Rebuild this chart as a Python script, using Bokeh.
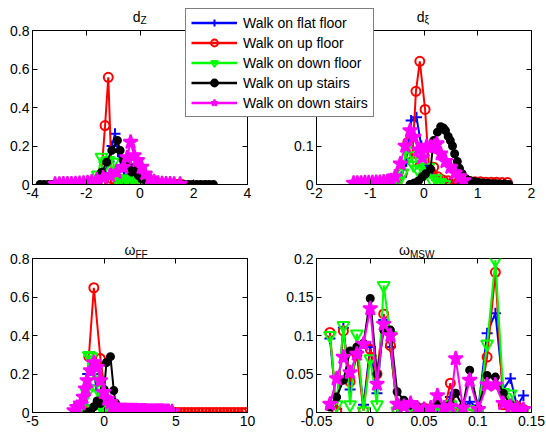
import numpy as np
from bokeh.plotting import figure
from bokeh.models import (Range1d, FixedTicker, LinearAxis, Legend, LegendItem, Label, GridBox)
from bokeh.embed import file_html
from bokeh.resources import INLINE

# ---------------- data ----------------
series_labels = ["Walk on flat floor", "Walk on up floor", "Walk on down floor",
                 "Walk on up stairs", "Walk on down stairs"]

# d_Z
dz_flat_x = [-2.5, -2.35, -2.2, -2.05, -1.9, -1.75, -1.6, -1.45, -1.3, -1.15, -1.04, -0.93, -0.82, -0.7, -0.58,
             -0.46, -0.34, -0.22, -0.1, 0.02, 0.14, 0.3, 0.45, 0.6, 0.75, 0.9, 1.05, 1.2, 1.35, 1.5]
dz_flat_y = [0, 0, 0, 0, 0.002, 0.005, 0.01, 0.03, 0.06, 0.12, 0.2, 0.264, 0.17, 0.1, 0.05,
             0.04, 0.03, 0.02, 0.012, 0.008, 0.005, 0.003, 0.002, 0.001, 0, 0, 0, 0, 0, 0]
dz_upfloor_x = [-1.6, -1.46, -1.3, -1.18, -1.05, -0.92, -0.79, -0.66, -0.53, -0.4, -0.27, -0.14, 0.0,
                0.13, 0.26, 0.39, 0.52, 0.65, 0.78, 0.91, 1.04, 1.17, 1.3, 1.43, 1.56]
dz_upfloor_y = [0, 0.01, 0.306, 0.557, 0.03, 0.02, 0.01, 0.008, 0.01, 0.006, 0.008, 0.005, 0.006,
                0.004, 0.005, 0.003, 0.004, 0.003, 0.002, 0.003, 0.002, 0.002, 0.001, 0.001, 0]
dz_downfloor_x = [-2.0, -1.86, -1.72, -1.57, -1.43, -1.3, -1.18, -1.0, -0.87, -0.75, -0.62, -0.5, -0.37,
                  -0.25, -0.12, 0.0, 0.12, 0.25, 0.37]
dz_downfloor_y = [0, 0.003, 0.01, 0.05, 0.142, 0.1, 0.125, 0.116, 0.03, 0.025, 0.02, 0.03, 0.02,
                  0.025, 0.015, 0.02, 0.01, 0.005, 0]
dz_upstairs_x = [-3.72, -3.57, -3.41, -3.26, -3.1, -2.95, -2.8, -2.64, -2.49, -2.33, -2.18, -2.03, -1.87,
                 -1.72, -1.56, -1.43, -1.24, -1.05, -0.84, -0.74, -0.62, -0.43, -0.31, -0.19, -0.06, 0.06,
                 0.25, 0.4, 0.56, 0.71, 0.87, 1.02, 1.18, 1.33, 1.49, 1.64, 1.8, 1.95, 2.11, 2.26, 2.42,
                 2.57, 2.73]
dz_upstairs_y = [0, 0, 0, 0, 0, 0, 0, 0, 0, 0, 0, 0, 0,
                 0.005, 0.02, 0.064, 0.116, 0.177, 0.229, 0.177, 0.13, 0.099, 0.064, 0.09, 0.047, 0.03,
                 0.012, 0.005, 0, 0, 0, 0, 0, 0, 0, 0, 0, 0, 0, 0, 0,
                 0, 0]
dz_downstairs_x = [-3.16, -3.0, -2.85, -2.7, -2.55, -2.4, -2.25, -2.1, -1.95, -1.8, -1.61, -1.37, -1.12,
                   -0.87, -0.62, -0.48, -0.35, -0.22, -0.1, 0.06, 0.19, 0.37, 0.52, 0.67, 0.82, 0.97,
                   1.12, 1.27, 1.49]
dz_downstairs_y = [0.002, 0.002, 0.003, 0.003, 0.004, 0.005, 0.006, 0.008, 0.01, 0.014, 0.024, 0.035, 0.047,
                   0.064, 0.09, 0.14, 0.22, 0.15, 0.125, 0.09, 0.055, 0.03, 0.015, 0.008, 0.005, 0.004,
                   0.003, 0.002, 0.002]

# d_xi
dxi_flat_x = [-0.7, -0.6, -0.5, -0.42, -0.33, -0.24, -0.14, -0.05, 0.04, 0.13, 0.22, 0.31, 0.4, 0.5,
              0.6, 0.7, 0.8, 0.9, 1.0]
dxi_flat_y = [0, 0.002, 0.008, 0.02, 0.06, 0.166, 0.175, 0.1, 0.05, 0.03, 0.02, 0.012, 0.008, 0.005,
              0.003, 0.002, 0.001, 0, 0]
dxi_upfloor_x = [-0.6, -0.5, -0.4, -0.3, -0.22, -0.15, -0.078, 0.02, 0.1, 0.18, 0.26, 0.35, 0.45, 0.55,
                 0.65, 0.75, 0.85, 0.95, 1.05, 1.15, 1.25, 1.35, 1.45, 1.55]
dxi_upfloor_y = [0, 0.005, 0.03, 0.11, 0.06, 0.242, 0.32, 0.195, 0.03, 0.045, 0.02, 0.012, 0.01, 0.01,
                 0.008, 0.008, 0.008, 0.007, 0.007, 0.006, 0.006, 0.006, 0.005, 0.005]
dxi_downfloor_x = [-0.55, -0.47, -0.4, -0.33, -0.26, -0.19, -0.12, -0.05, 0.02, 0.08, 0.15, 0.22, 0.3, 0.38]
dxi_downfloor_y = [0, 0.01, 0.03, 0.097, 0.075, 0.05, 0.04, 0.06, 0.03, 0.045, 0.01, 0.015, 0.005, 0]
dxi_upstairs_x = [-0.26, -0.18, -0.1, -0.03, 0.03, 0.12, 0.18, 0.25, 0.31, 0.36, 0.4, 0.45, 0.49, 0.53,
                  0.57, 0.62, 0.66, 0.71, 0.78, 0.86, 0.94, 1.02, 1.1, 1.18, 1.26, 1.34, 1.42, 1.5, 1.58]
dxi_upstairs_y = [0, 0.004, 0.01, 0.02, 0.028, 0.04, 0.114, 0.136, 0.15, 0.147, 0.14, 0.125, 0.114, 0.1,
                  0.08, 0.06, 0.042, 0.028, 0.015, 0.01, 0.007, 0.005, 0.004, 0.003, 0.002, 0.002, 0.001,
                  0.001, 0]
dxi_downstairs_x = [-1.31, -1.24, -1.17, -1.1, -1.03, -0.96, -0.89, -0.82, -0.75, -0.68, -0.61, -0.54,
                    -0.44, -0.35, -0.26, -0.19, -0.1, -0.03, 0.05, 0.12, 0.19, 0.24, 0.31, 0.4, 0.49,
                    0.58, 0.66, 0.74]
dxi_downstairs_y = [0.004, 0.004, 0.004, 0.005, 0.005, 0.005, 0.006, 0.006, 0.007, 0.008, 0.01, 0.02,
                    0.054, 0.1, 0.14, 0.123, 0.09, 0.07, 0.1, 0.097, 0.1, 0.106, 0.08, 0.06, 0.045,
                    0.03, 0.02, 0.01]

# omega_FF
wff_flat_x = [-2.0, -1.7, -1.45, -1.31, -1.15, -0.95, -0.75, -0.55, -0.35, -0.15, 0.1, 0.4, 0.7, 1.0, 1.4, 1.8]
wff_flat_y = [0, 0.005, 0.04, 0.125, 0.2, 0.22, 0.2, 0.14, 0.07, 0.03, 0.01, 0.005, 0.002, 0, 0, 0]
wff_upfloor_x = [-1.8, -1.4, -1.07, -0.72, -0.26, 0.2, 0.6, 1.0, 1.4, 1.8, 2.2, 2.6, 3.0, 3.4, 3.8, 4.2,
                 4.6, 4.85, 5.1, 5.35, 5.6, 5.85, 6.1, 6.35, 6.6, 6.85, 7.1, 7.35, 7.6, 7.85, 8.1, 8.35,
                 8.6, 8.85, 9.1, 9.35, 9.6, 9.85]
wff_upfloor_y = [0, 0.01, 0.29, 0.648, 0.28, 0.02, 0.005, 0, 0, 0, 0, 0, 0, 0, 0, 0,
                 0, 0, 0, 0, 0, 0, 0, 0, 0, 0, 0, 0, 0, 0, 0, 0,
                 0, 0, 0, 0, 0, 0]
wff_downfloor_x = [-2.0, -1.7, -1.4, -1.2, -1.07, -0.9, -0.75, -0.6, -0.45, -0.3, -0.15, 0.0, 0.2, 0.4,
                   0.6, 0.8, 1.0, 1.2, 1.4, 1.6]
wff_downfloor_y = [0, 0.003, 0.02, 0.1, 0.296, 0.29, 0.24, 0.2, 0.12, 0.05, 0.02, 0.01, 0.005, 0.003,
                   0.002, 0.001, 0, 0, 0, 0]
wff_upstairs_x = [-1.2, -0.95, -0.72, -0.49, -0.26, 0.0, 0.16, 0.44, 0.67, 0.79, 0.95, 1.2, 1.5, 1.9,
                  2.3, 2.7, 3.1, 3.5, 3.9, 4.3, 4.8]
wff_upstairs_y = [0, 0.005, 0.03, 0.06, 0.047, 0.12, 0.26, 0.29, 0.114, 0.05, 0.02, 0.01, 0.005, 0.003,
                  0.002, 0.002, 0.001, 0.001, 0.001, 0, 0]
wff_downstairs_x = [-2.1, -1.9, -1.65, -1.45, -1.3, -1.19, -0.96, -0.72, -0.49, -0.26, -0.03, 0.21, 0.44,
                    0.6, 0.75, 0.9, 1.05, 1.2, 1.35, 1.5, 1.65, 1.8, 1.95, 2.1, 2.25, 2.4, 2.55, 2.7,
                    2.85, 3.0, 3.15, 3.3, 3.45, 3.6, 3.75, 3.9, 4.05, 4.2, 4.35, 4.5, 4.74]
wff_downstairs_y = [0.01, 0.027, 0.045, 0.08, 0.123, 0.166, 0.218, 0.26, 0.235, 0.166, 0.105, 0.07, 0.053,
                    0.03, 0.02, 0.015, 0.013, 0.012, 0.011, 0.011, 0.01, 0.01, 0.01, 0.01, 0.01, 0.009,
                    0.009, 0.009, 0.009, 0.008, 0.008, 0.008, 0.008, 0.007, 0.007, 0.007, 0.007, 0.006,
                    0.006, 0.006, 0.005]

# omega_MSW (shared bin positions)
wmsw_x = [-0.0375, -0.03125, -0.025, -0.01875, -0.0125, -0.00625, 0.0, 0.00625, 0.0125, 0.01875,
          0.025, 0.03125, 0.0375, 0.04375, 0.05, 0.05625, 0.0625, 0.06875, 0.0745, 0.0795,
          0.0862, 0.0925, 0.1005, 0.1087, 0.1164, 0.1237, 0.1305, 0.1365, 0.1425]
wmsw_flat_y = [0.096, 0.005, 0.110, 0.030, 0.080, 0.010, 0.085, 0.025, 0.120, 0.085,
               0.005, 0.010, 0.005, 0.003, 0.004, 0.002, 0.005, 0.004, 0.020, 0.008,
               0.005, 0.014, 0.005, 0.103, 0.129, 0.030, 0.044, 0.008, 0.022]
wmsw_upfloor_y = [0.104, 0.002, 0.106, 0.040, 0.075, 0.002, 0.082, 0.050, 0.128, 0.087,
                  0.002, 0.005, 0.008, 0.004, 0.006, 0.003, 0.004, 0.003, 0.038, 0.004,
                  0.004, 0.003, 0.003, 0.072, 0.182, 0.010, 0.006, 0.008, 0.004]
wmsw_downfloor_y = [0.100, 0.010, 0.113, 0.010, 0.102, 0.002, 0.070, 0.010, 0.165, 0.100,
                    0.002, 0.004, 0.002, 0.005, 0.002, 0.002, 0.004, 0.003, 0.010, 0.002,
                    0.002, 0.004, 0.002, 0.089, 0.198, 0.026, 0.024, 0.003, 0.002]
wmsw_upstairs_y = [0.007, 0.020, 0.042, 0.080, 0.085, 0.090, 0.148, 0.050, 0.107, 0.107,
                   0.027, 0.016, 0.010, 0.008, 0.005, 0.006, 0.014, 0.008, 0.010, 0.025,
                   0.008, 0.055, 0.006, 0.048, 0.046, 0.025, 0.010, 0.006, 0.003]
wmsw_downstairs_y = [0.011, 0.044, 0.072, 0.052, 0.076, 0.089, 0.135, 0.037, 0.115, 0.100,
                     0.011, 0.008, 0.012, 0.006, 0.004, 0.006, 0.022, 0.006, 0.008, 0.070,
                     0.006, 0.042, 0.004, 0.036, 0.036, 0.012, 0.008, 0.006, 0.004]

# axes ticks and labels
dz_xticks = [-4, -2, 0, 2, 4];            dz_xlabels = ["-4", "-2", "0", "2", "4"]
dz_yticks = [0, 0.2, 0.4, 0.6, 0.8];      dz_ylabels = ["0", "0.2", "0.4", "0.6", "0.8"]
dxi_xticks = [-2, -1, 0, 1, 2];           dxi_xlabels = ["-2", "-1", "0", "1", "2"]
dxi_yticks = [0, 0.1, 0.2, 0.3, 0.4];     dxi_ylabels = ["0", "0.1", "0.2", "0.3", "0.4"]
wff_xticks = [-5, 0, 5, 10];              wff_xlabels = ["-5", "0", "5", "10"]
wff_yticks = [0, 0.2, 0.4, 0.6, 0.8];     wff_ylabels = ["0", "0.2", "0.4", "0.6", "0.8"]
wmsw_xticks = [-0.05, 0, 0.05, 0.1, 0.15]; wmsw_xlabels = ["-0.05", "0", "0.05", "0.1", "0.15"]
wmsw_yticks = [0, 0.05, 0.1, 0.15, 0.2];  wmsw_ylabels = ["0", "0.05", "0.1", "0.15", "0.2"]

# panel titles (main symbol, subscript)
titles = [("d", "Z"), ("d", "ξ"), ("ω", "FF"), ("ω", "MSW")]

# ---------------- styling ----------------
W, H = 546, 439
FONT = "Liberation Sans"
COLORS = ["#0000ff", "#ff0000", "#00ff00", "#000000", "#ff00ff"]
MARKERS = [
    dict(marker="cross", size=11, fill_color=None),
    dict(marker="circle", size=9, fill_color=None),
    dict(marker="inverted_triangle", size=12, fill_color=None),
    dict(marker="circle", size=7, fill_color="#000000"),
    dict(marker="star", size=15, fill_color="#ff00ff"),
]
# frames (left, right, top, bottom) in page pixels
FRAMES = [(32, 247, 30, 184), (316, 531, 30, 184), (32, 247, 258, 412), (316, 531, 258, 412)]


def make_panel(frame, xr, yr, xticks, xlabels, yticks, ylabels, data):
    left, right, top, bottom = frame
    p = figure(width=W, height=H, output_backend="svg", toolbar_location=None,
               x_range=Range1d(*xr), y_range=Range1d(*yr), frame_align=False,
               min_border_left=left, min_border_right=W - right,
               min_border_top=top, min_border_bottom=H - bottom)
    p.border_fill_alpha = 0
    p.background_fill_color = "white"
    p.outline_line_color = "black"
    p.outline_line_width = 1
    p.grid.visible = False
    for ax in p.xaxis + p.yaxis:
        ax.major_tick_in = 5
        ax.major_tick_out = 0
        ax.minor_tick_line_color = None
        ax.major_label_text_font = FONT
        ax.major_label_text_font_size = "14px"
        ax.major_label_text_color = "black"
        ax.axis_line_color = "black"
        ax.major_tick_line_color = "black"
        ax.major_label_standoff = 3
    p.xaxis.ticker = FixedTicker(ticks=xticks)
    p.yaxis.ticker = FixedTicker(ticks=yticks)
    p.xaxis.major_label_overrides = dict(zip(xticks, xlabels))
    p.yaxis.major_label_overrides = dict(zip(yticks, ylabels))
    # ticks on the opposite sides (boxed MATLAB look), without labels
    for side, ticks in (("right", yticks), ("above", xticks)):
        ax = LinearAxis(ticker=FixedTicker(ticks=ticks), major_label_text_font_size="1px",
                        major_label_text_color=None,
                        major_tick_in=5, major_tick_out=0, minor_tick_line_color=None,
                        axis_line_color=None, major_tick_line_color="black", major_label_standoff=0)
        p.add_layout(ax, side)
    for i, (xs, ys) in enumerate(data):
        p.line(xs, ys, line_color=COLORS[i], line_width=2)
        m = MARKERS[i]
        p.scatter(xs, ys, marker=m["marker"], size=m["size"], line_color=COLORS[i],
                  fill_color=m["fill_color"], line_width=2)
    return p


p_tl = make_panel(FRAMES[0], (-4, 4), (0, 0.8), dz_xticks, dz_xlabels, dz_yticks, dz_ylabels,
                  [(dz_flat_x, dz_flat_y), (dz_upfloor_x, dz_upfloor_y), (dz_downfloor_x, dz_downfloor_y),
                   (dz_upstairs_x, dz_upstairs_y), (dz_downstairs_x, dz_downstairs_y)])
p_tr = make_panel(FRAMES[1], (-2, 2), (0, 0.4), dxi_xticks, dxi_xlabels, dxi_yticks, dxi_ylabels,
                  [(dxi_flat_x, dxi_flat_y), (dxi_upfloor_x, dxi_upfloor_y), (dxi_downfloor_x, dxi_downfloor_y),
                   (dxi_upstairs_x, dxi_upstairs_y), (dxi_downstairs_x, dxi_downstairs_y)])
p_bl = make_panel(FRAMES[2], (-5, 10), (0, 0.8), wff_xticks, wff_xlabels, wff_yticks, wff_ylabels,
                  [(wff_flat_x, wff_flat_y), (wff_upfloor_x, wff_upfloor_y), (wff_downfloor_x, wff_downfloor_y),
                   (wff_upstairs_x, wff_upstairs_y), (wff_downstairs_x, wff_downstairs_y)])
p_br = make_panel(FRAMES[3], (-0.05, 0.15), (0, 0.2), wmsw_xticks, wmsw_xlabels, wmsw_yticks, wmsw_ylabels,
                  [(wmsw_x, wmsw_flat_y), (wmsw_x, wmsw_upfloor_y), (wmsw_x, wmsw_downfloor_y),
                   (wmsw_x, wmsw_upstairs_y), (wmsw_x, wmsw_downstairs_y)])

# ---------------- overlay: titles and shared legend (page-pixel coordinates) ----------------
ov = figure(width=W, height=H, output_backend="svg", toolbar_location=None,
            x_range=Range1d(0, W), y_range=Range1d(H, 0), frame_align=False,
            x_axis_type=None, y_axis_type=None,
            min_border_left=0, min_border_right=0, min_border_top=0, min_border_bottom=0)
ov.grid.visible = False
ov.outline_line_color = None
ov.background_fill_alpha = 0
ov.border_fill_alpha = 0

# title placement: (anchor x, main baseline, subscript baseline, x shift)
title_pos = [((FRAMES[0][0] + FRAMES[0][1]) / 2, 16.5, 19.5, 0.5),
             ((FRAMES[1][0] + FRAMES[1][1]) / 2, 16.5, 19.0, 0.5),
             ((FRAMES[2][0] + FRAMES[2][1]) / 2, 249.0, 253.5, -4.5),
             ((FRAMES[3][0] + FRAMES[3][1]) / 2, 249.0, 253.5, -14.0)]
for (main, sub), (cx, yb, ys, dx) in zip(titles, title_pos):
    ov.add_layout(Label(x=cx, y=yb, text=main, text_align="right", text_baseline="alphabetic",
                        x_offset=dx, text_font=FONT, text_font_size="14px", text_color="black"))
    ov.add_layout(Label(x=cx, y=ys, text=sub, text_align="left", text_baseline="alphabetic",
                        x_offset=dx, text_font=FONT, text_font_size="10px", text_color="black"))

# legend-only renderers (a single NaN point each, so nothing is drawn in the overlay)
items = []
for i, lab in enumerate(series_labels):
    m = MARKERS[i]
    nan_pt = np.array([np.nan])
    ln = ov.line(nan_pt, nan_pt, line_color=COLORS[i], line_width=2.5)
    sc = ov.scatter(nan_pt, nan_pt, marker=m["marker"], size=m["size"], line_color=COLORS[i],
                    fill_color=m["fill_color"], line_width=2)
    items.append(LegendItem(label=lab, renderers=[ln, sc]))

legend = Legend(items=items, location=(185, H - 117), margin=0, padding=5, spacing=3,
                glyph_width=46, glyph_height=17, label_height=17, label_standoff=6,
                label_text_font=FONT, label_text_font_size="14px", label_text_color="black",
                border_line_color="black", border_line_width=1,
                background_fill_color="white", background_fill_alpha=1)
ov.add_layout(legend, "center")

layout = GridBox(children=[(p_tr, 0, 0), (p_bl, 0, 0), (p_br, 0, 0), (p_tl, 0, 0), (ov, 0, 0)])

open("out.html", "w").write(file_html(layout, INLINE))
